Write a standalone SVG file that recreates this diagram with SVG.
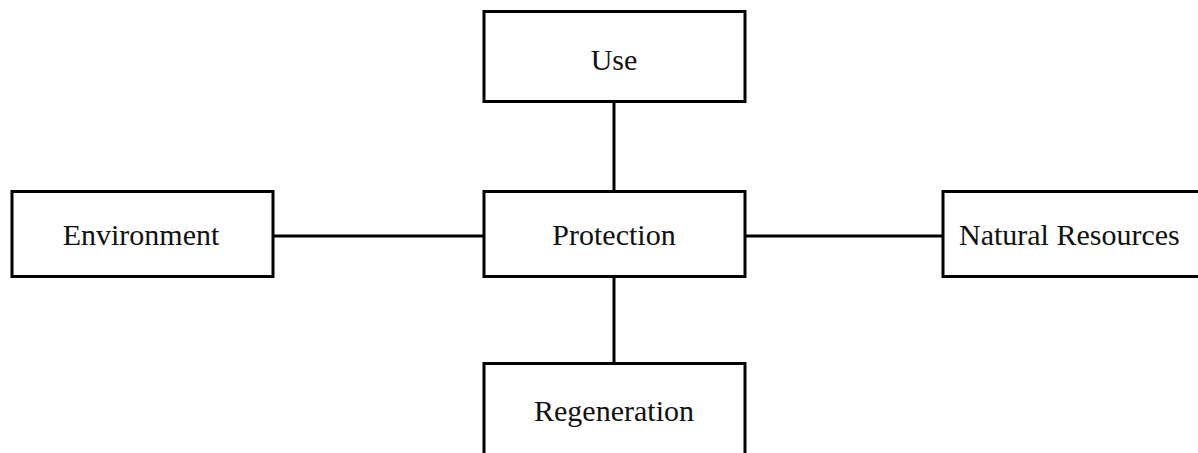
<svg xmlns="http://www.w3.org/2000/svg" width="1198" height="453" viewBox="0 0 1198 453">
<style>
.box{fill:#fff;stroke:#000;stroke-width:3}
.lbl{font-family:"Liberation Serif","Times New Roman",serif;font-size:30px;fill:#111;text-anchor:middle}
.conn line{stroke:#000;stroke-width:3}
</style>
<rect width="1198" height="453" fill="#fff"/>
<g class="conn" id="connectors">
<line x1="614" y1="101" x2="614" y2="191"/>
<line x1="614" y1="276" x2="614" y2="364"/>
<line x1="273" y1="236" x2="484" y2="236"/>
<line x1="745" y1="236" x2="943" y2="236"/>
</g>
<g id="use"><rect class="box" x="484" y="11.5" width="261" height="90"/><text class="lbl" x="614" y="70">Use</text></g>
<g id="protection"><rect class="box" x="484" y="191.5" width="261" height="85"/><text class="lbl" x="614" y="245">Protection</text></g>
<g id="environment"><rect class="box" x="12" y="191.5" width="261" height="85"/><text class="lbl" x="141" y="245">Environment</text></g>
<g id="natural-resources"><rect class="box" x="943" y="191.5" width="270" height="85"/><text class="lbl" x="959" y="245" style="text-anchor:start">Natural Resources</text></g>
<g id="regeneration"><rect class="box" x="484" y="363.5" width="261" height="100"/><text class="lbl" x="614" y="421">Regeneration</text></g>
</svg>
